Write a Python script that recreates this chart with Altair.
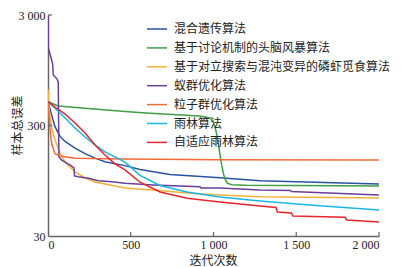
import altair as alt
import pandas as pd

NAMES = [
    "混合遗传算法",
    "基于讨论机制的头脑风暴算法",
    "基于对立搜索与混沌变异的磷虾觅食算法",
    "蚁群优化算法",
    "粒子群优化算法",
    "雨林算法",
    "自适应雨林算法",
]
COLORS = ["#2a52a6", "#3f9f45", "#f5b23a", "#6b3f9c", "#f26b35", "#1cb6e6", "#e8242c"]

# 混合遗传算法
HGA_IT = [0, 22, 42, 73, 103, 163, 224, 284, 344, 465, 556, 737, 1039, 1281, 2000]
HGA_VAL = [493, 373, 293, 239, 215, 187, 167, 152, 141, 130, 120, 108, 101, 95, 88.6]

# 基于讨论机制的头脑风暴算法
BSO_IT = [0, 62, 224, 465, 616, 918, 979, 997, 1010, 1020, 1030, 1040, 1050, 1060, 1070, 1085, 1110, 1200, 2000]
BSO_VAL = [493, 450, 430, 401, 387, 366, 351, 330, 290, 245, 200, 160, 130, 110, 98, 90, 87.5, 86.5, 85]

# 基于对立搜索与混沌变异的磷虾觅食算法
KH_IT = [0, 4, 12, 24, 42, 73, 103, 163, 224, 284, 344, 465, 634, 840, 1039, 1281, 2000]
KH_VAL = [640, 470, 358, 280, 222, 169, 140, 114, 100.5, 92.4, 88.6, 81.5, 78.3, 73.5, 70.5, 68, 66.2]

# 蚁群优化算法
ACO_IT = [0, 2, 22, 28, 32, 55, 62, 66, 83, 113, 133, 157, 160, 183, 244, 304, 385, 465, 634, 918, 925, 1039, 1281, 1465, 1470, 2000]
ACO_VAL = [3000, 1511, 1175, 1080, 859, 790, 740, 156, 146, 137, 132, 124, 105, 103, 100, 95, 93, 90, 87, 83.8, 81.5, 81.5, 78.3, 77.5, 76, 70.5]

# 粒子群优化算法
PSO_IT = [0, 3, 8, 14, 22, 42, 73, 163, 465, 1039, 2000]
PSO_VAL = [493, 430, 336, 260, 206, 167, 159, 152, 149, 147, 146]

# 雨林算法
RFA_IT = [0, 42, 103, 163, 224, 284, 344, 405, 465, 556, 677, 840, 1039, 1281, 1600, 2000]
RFA_VAL = [493, 432, 351, 285, 236, 200, 173, 156, 140, 106, 86, 75, 67.6, 62.2, 57, 51.6]

# 自适应雨林算法
ARFA_IT = [0, 42, 103, 163, 224, 284, 344, 405, 465, 556, 677, 840, 1039, 1281, 1378, 1386, 1470, 1480, 1795, 1805, 2000]
ARFA_VAL = [493, 441, 381, 316, 257, 200, 162, 135, 119, 92, 75, 66, 61, 56, 54.3, 49.5, 48.5, 45.5, 44.3, 41.9, 40.2]

X_TICKS = [0, 500, 1000, 1500, 2000]
Y_TICKS = [30, 300, 3000]

series = [
    (HGA_IT, HGA_VAL),
    (BSO_IT, BSO_VAL),
    (KH_IT, KH_VAL),
    (ACO_IT, ACO_VAL),
    (PSO_IT, PSO_VAL),
    (RFA_IT, RFA_VAL),
    (ARFA_IT, ARFA_VAL),
]
rows = []
for k, (name, (its, vals)) in enumerate(zip(NAMES, series)):
    for i, (t, v) in enumerate(zip(its, vals)):
        rows.append({"alg": name, "it": t, "val": v, "idx": i, "k": k})
df = pd.DataFrame(rows)

xscale = alt.Scale(domain=[0, 2000], nice=False, zero=False)
yscale = alt.Scale(type="log", domain=[30, 3000], nice=False)

label_expr = "replace(format(datum.value, ','), ',', ' ')"
xaxis = alt.Axis(values=X_TICKS, labelExpr=label_expr, title="迭代次数",
                 titleX=165, titleY=24, titleBaseline="middle", titleAlign="center")
yaxis = alt.Axis(values=Y_TICKS, labelExpr=label_expr, title="样本总误差",
                 titleX=-31, titleY=110, titleAngle=270, titleBaseline="middle",
                 titleAlign="center")

lines = alt.Chart(df).mark_line(strokeWidth=1.5, clip=True).encode(
    x=alt.X("it:Q", scale=xscale, axis=xaxis),
    y=alt.Y("val:Q", scale=yscale, axis=yaxis),
    color=alt.Color("alg:N", scale=alt.Scale(domain=NAMES, range=COLORS), sort=NAMES,
                    legend=alt.Legend(title=None, orient="none", legendX=98, legendY=3,
                                      symbolType="stroke", symbolSize=400, symbolStrokeWidth=1.5,
                                      labelFont="Noto Sans CJK SC", labelFontSize=12,
                                      labelColor="#222", labelOffset=6, rowPadding=1.9,
                                      labelLimit=400)),
    detail="k:N",
    order=alt.Order("idx:Q"),
)

xt = alt.Chart(pd.DataFrame({"it": X_TICKS[1:]})).mark_rule(color="#666", strokeWidth=1.2).encode(
    x=alt.X("it:Q", scale=xscale, axis=xaxis),
    y=alt.value(221), y2=alt.value(217),
)
yt = alt.Chart(pd.DataFrame({"val": Y_TICKS[1:]})).mark_rule(color="#666", strokeWidth=1.2).encode(
    y=alt.Y("val:Q", scale=yscale, axis=yaxis),
    x=alt.value(0), x2=alt.value(4),
)

chart = alt.layer(lines, xt, yt).properties(
    width=331, height=221,
    padding={"left": 40, "top": 7, "right": 14, "bottom": 31},
    autosize=alt.AutoSizeParams(type="none"),
).configure_view(stroke=None).configure_axis(
    grid=False, ticks=False, domainColor="#666", domainWidth=1.5,
    labelFont="Liberation Serif", labelFontSize=12, labelColor="#222", labelPadding=3,
    titleFont="Noto Sans CJK SC", titleFontSize=12, titleFontWeight="normal", titleColor="#222",
)

chart.save("out.html", embed_options={"renderer": "svg", "actions": False})
